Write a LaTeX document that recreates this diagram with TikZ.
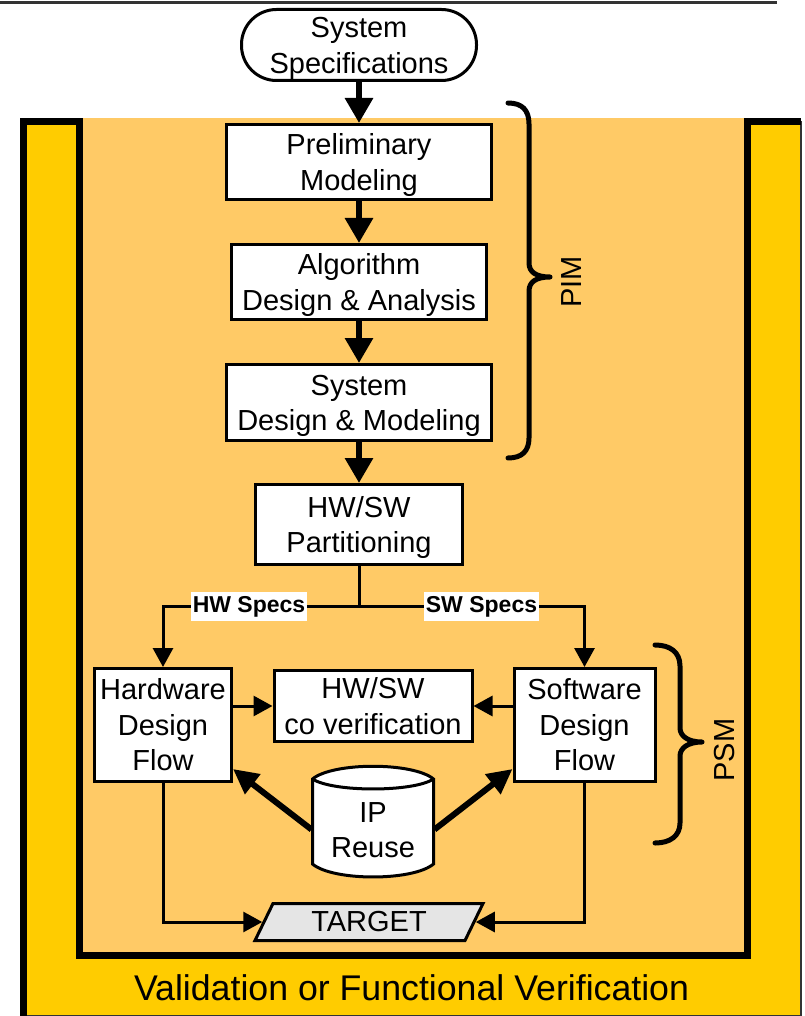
\documentclass[tikz,border=0pt]{standalone}
\usepackage{fontspec}
\setmainfont{Liberation Sans}
\usetikzlibrary{arrows.meta,calc}
\definecolor{outery}{HTML}{FFCC00}
\definecolor{innery}{HTML}{FFCA66}
\definecolor{targetgray}{HTML}{E5E5E5}
\newcommand{\mfs}{\fontsize{29}{35.5}\selectfont}
\newcommand{\tstrut}{\rule[-7.2pt]{0pt}{35.2pt}}
\begin{document}
\begin{tikzpicture}[x=1pt,y=-1pt,
  box/.style={draw=black, line width=3pt, fill=white, align=center, font=\mfs, inner sep=0pt},
  term/.style={box, rounded corners=35pt},
  mainarrow/.style={line width=6pt, -{Triangle[width=27pt,length=25pt]}},
  specarrow/.style={line width=3pt, -{Triangle[width=20pt,length=19pt]}},
  specline/.style={line width=3pt},
  iparrow/.style={line width=6pt, -{Triangle[width=24pt,length=25pt]}},
  speclabel/.style={fill=white, font=\bfseries\fontsize{23}{27}\selectfont, inner xsep=1.5pt, inner ysep=0pt, minimum height=29pt},
  bracestyle/.style={line width=5pt, line cap=round, line join=round},
  sidelabel/.style={font=\mfs, rotate=90, inner sep=0pt},
  frame/.style={line width=7pt}
]
\useasboundingbox (0,0) rectangle (804,1016);
% top rule
\draw[line width=3pt, black!80] (0,2.5) -- (777,2.5);
% backgrounds
\fill[outery] (20,118) rectangle (801,1016);
\fill[innery] (79.5,118) rectangle (747,955.5);
\draw[line width=1.5pt, black!80] (801,121.5) -- (801,1015.3) -- (23.5,1015.3);
\draw[frame] (23.5,1016) -- (23.5,121.5) -- (79.5,121.5) -- (79.5,955.5) -- (747,955.5) -- (747,121.5) -- (801,121.5);

% nodes
\node[term, minimum width=235pt, minimum height=71pt] (spec) at (359,45) {\tstrut System\\Specifications\tstrut};
\node[box, minimum width=265pt, minimum height=75pt] (prelim) at (359,162) {\tstrut Preliminary\\Modeling\tstrut};
\node[box, minimum width=255pt, minimum height=75pt] (algo) at (359,282) {\tstrut Algorithm\\Design \& Analysis\tstrut};
\node[box, minimum width=265pt, minimum height=76pt] (sysdes) at (359,402.5) {\tstrut System\\Design \& Modeling\tstrut};
\node[box, minimum width=207pt, minimum height=80pt] (part) at (359,524.5) {\tstrut HW/SW\\Partitioning\tstrut};
\node[box, minimum width=137pt, minimum height=113pt] (hw) at (163,725) {\tstrut Hardware\\Design\\Flow\tstrut};
\node[box, minimum width=198pt, minimum height=70pt] (cover) at (373,706) {\tstrut HW/SW\\co verification\tstrut};
\node[box, minimum width=141pt, minimum height=113pt] (sw) at (584.5,725) {\tstrut Software\\Design\\Flow\tstrut};

% IP reuse cylinder
\draw[line width=3pt, fill=white] (312.5,779) .. controls (333,762) and (413,762) .. (433.5,779)
  -- (433.5,864) .. controls (413,881.3) and (333,881.3) .. (312.5,864) -- cycle;
\draw[line width=3pt] (312.5,779) .. controls (333,792.3) and (413,792.3) .. (433.5,779);
\node[align=center, font=\mfs, inner sep=0pt, outer sep=0pt, minimum width=123pt, minimum height=90pt] (ip) at (373,829.5) {\tstrut IP\\Reuse\tstrut};

% target
\draw[line width=3pt, fill=targetgray] (273,903.5) -- (483,903.5) -- (465,940.5) -- (255,940.5) -- cycle;
\node[font=\mfs, inner sep=0pt, outer sep=0pt, minimum width=213.5pt, minimum height=37pt] (target) at (369,922) {TARGET};

% main chain
\draw[mainarrow] (spec) -- (prelim);
\draw[mainarrow] (prelim) -- (algo);
\draw[mainarrow] (algo) -- (sysdes);
\draw[mainarrow] (sysdes) -- (part);

% specs split
\coordinate (j) at (359,606);
\draw[specline] (part.south) -- (j);
\draw[specarrow] (j) -| (hw.north);
\draw[specarrow] (j) -| (sw.north);
\node[speclabel] (hwl) at (249,606.5) {HW Specs};
\node[speclabel] (swl) at (481.5,606.5) {SW Specs};

% co verification
\draw[specarrow] (hw.east |- cover.west) -- (cover.west);
\draw[specarrow] (sw.west |- cover.east) -- (cover.east);

% IP reuse arrows
\draw[iparrow] (ip.west) -- ([yshift=14pt]hw.south east);
\draw[iparrow] (ip.east) -- ([yshift=14pt]sw.south west);

% to target
\draw[specarrow] (hw.south) |- (target.west);
\draw[specarrow] (sw.south) |- (target.east);

% braces
\draw[bracestyle] (508,103) .. controls (522,103) and (529,110) .. (529,124) -- (529,263)
  .. controls (529,272) and (536,277) .. (550,277)
  .. controls (536,277) and (529,282) .. (529,291) -- (529,438)
  .. controls (529,451) and (522,458) .. (508,458);
\node[sidelabel] (pim) at (572,282) {PIM};
\draw[bracestyle] (655,645) .. controls (670,645) and (680,652) .. (680,666) -- (680,728)
  .. controls (680,736) and (688,742) .. (702,742)
  .. controls (688,742) and (680,748) .. (680,756) -- (680,823)
  .. controls (680,836) and (670,843) .. (655,843);
\node[sidelabel] (psm) at (725,750) {PSM};

% bottom label
\node[anchor=base, font=\fontsize{35.7}{40}\selectfont, inner sep=0pt] (val) at (411.5,1000) {Validation or Functional Verification};
\end{tikzpicture}
\end{document}
